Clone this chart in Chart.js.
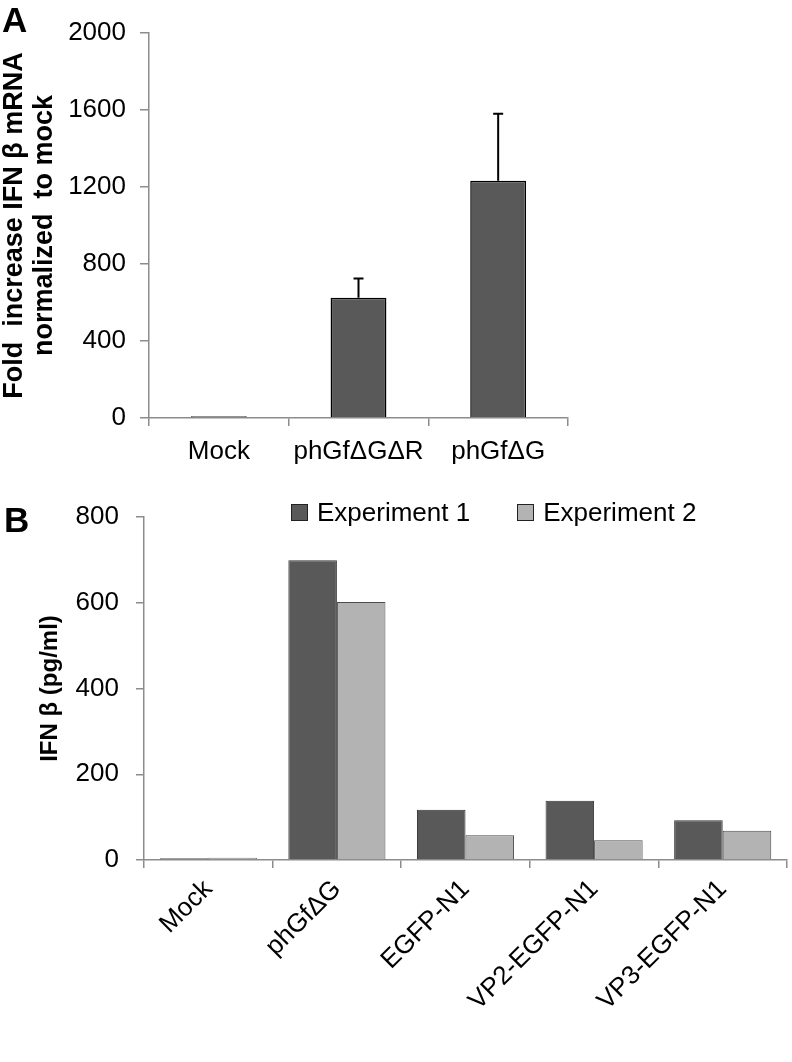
<!DOCTYPE html>
<html>
<head>
<meta charset="utf-8">
<script src="https://cdn.jsdelivr.net/npm/chart.js@4.4.1/dist/chart.umd.min.js"></script>
<style>
  html, body { margin: 0; padding: 0; background: #fff; }
  #wrap { position: relative; width: 792px; height: 1062px; font-family: "Liberation Sans", Arial, sans-serif; }
  #chartA { position: absolute; left: 0; top: 0; }
  #chartB { position: absolute; left: 0; top: 480px; }
  .panel { position: absolute; font-weight: bold; font-size: 35px; line-height: 1; color: #000; }
  #legendB { position: absolute; left: 291px; top: 497px; margin: 0; padding: 0; list-style: none; display: flex; }
  #legendB li { display: flex; align-items: center; margin-right: 47px; font-size: 26px; color: #000; }
  #legendB .box { width: 15px; height: 15px; border: 1.5px solid #222; margin-right: 9px; }
</style>
</head>
<body>
<div id="wrap">
  <canvas id="chartA" width="792" height="480"></canvas>
  <canvas id="chartB" width="792" height="582"></canvas>
  <div class="panel" style="left:2px; top:2px;">A</div>
  <div class="panel" style="left:4px; top:502px;">B</div>
  <ul id="legendB"></ul>
</div>
<script>
// 패널 A 데이터
const labelsA = ['Mock', 'phGfΔGΔR', 'phGfΔG'];
const valuesA = [9, 625, 1232];
const errorsA = [0, 100, 348];
const ticksA = { min: 0, max: 2000, step: 400 };

// 패널 B 데이터
const labelsB = ['Mock', 'phGfΔG', 'EGFP-N1', 'VP2-EGFP-N1', 'VP3-EGFP-N1'];
const exp1 = [4, 699, 117, 138, 93];
const exp2 = [5, 602, 58, 46, 68];
const ticksB = { min: 0, max: 800, step: 200 };

const FONT = '"Liberation Sans", Arial, sans-serif';
const AXIS = '#8c8c8c';
Chart.defaults.font.family = FONT;
Chart.defaults.color = '#000';

// 오차 막대 (위쪽만)
const errorBars = {
    id: 'errorBars',
    afterDatasetsDraw(chart) {
        const { ctx, scales: { y } } = chart;
        chart.data.datasets.forEach((ds, i) => {
            if (!ds.errors) return;
            chart.getDatasetMeta(i).data.forEach((bar, j) => {
                const err = ds.errors[j];
                if (!err) return;
                const top = y.getPixelForValue(ds.data[j] + err);
                ctx.save();
                ctx.strokeStyle = '#000';
                ctx.lineWidth = 2;
                ctx.beginPath();
                ctx.moveTo(bar.x, bar.y);
                ctx.lineTo(bar.x, top);
                ctx.moveTo(bar.x - 5, top);
                ctx.lineTo(bar.x + 5, top);
                ctx.stroke();
                ctx.restore();
            });
        });
    }
};

// HTML 범례
const htmlLegend = {
    id: 'htmlLegend',
    afterUpdate(chart) {
        const ul = document.getElementById('legendB');
        ul.innerHTML = '';
        chart.options.plugins.legend.labels.generateLabels(chart).forEach(item => {
            const li = document.createElement('li');
            const box = document.createElement('span');
            box.className = 'box';
            box.style.background = item.fillStyle;
            li.appendChild(box);
            li.appendChild(document.createTextNode(item.text));
            ul.appendChild(li);
        });
    }
};

function axisGrid(len) {
    return { display: true, drawOnChartArea: false, tickLength: len, color: AXIS, lineWidth: 1.5 };
}

// 패널 A
new Chart(document.getElementById('chartA'), {
    type: 'bar',
    data: {
        labels: labelsA,
        datasets: [{
            data: valuesA,
            errors: errorsA,
            backgroundColor: '#595959',
            borderColor: '#000',
            borderWidth: 1.5,
            categoryPercentage: 0.8,
            barPercentage: 0.5
        }]
    },
    options: {
        responsive: false,
        animation: false,
        devicePixelRatio: 1,
        layout: { padding: { top: 33, right: 224, left: 0, bottom: 0 } },
        plugins: { legend: { display: false }, tooltip: { enabled: false } },
        scales: {
            x: {
                grid: axisGrid(8),
                border: { color: AXIS, width: 1.5 },
                ticks: { font: { size: 26 }, padding: 10, maxRotation: 0 },
                afterFit: s => { s.height = 62; }
            },
            y: {
                min: ticksA.min,
                max: ticksA.max,
                grid: axisGrid(9),
                border: { color: AXIS, width: 1.5 },
                ticks: { stepSize: ticksA.step, font: { size: 26 }, padding: 14, format: { useGrouping: false } },
                title: {
                    display: true,
                    text: ['Fold  increase IFN β mRNA', 'normalized  to mock'],
                    font: { size: 27, weight: 'bold', lineHeight: 1.1 },
                    padding: { top: 0, bottom: 0 }
                },
                afterFit: s => { s.width = 149; }
            }
        }
    },
    plugins: [errorBars]
});

// 패널 B
new Chart(document.getElementById('chartB'), {
    type: 'bar',
    data: {
        labels: labelsB,
        datasets: [{
            label: 'Experiment 1',
            data: exp1,
            backgroundColor: '#595959',
            borderColor: '#333',
            borderWidth: 1,
            categoryPercentage: 0.755,
            barPercentage: 1
        }, {
            label: 'Experiment 2',
            data: exp2,
            backgroundColor: '#b3b3b3',
            borderColor: '#4d4d4d',
            borderWidth: 1,
            categoryPercentage: 0.755,
            barPercentage: 1
        }]
    },
    options: {
        responsive: false,
        animation: false,
        devicePixelRatio: 1,
        layout: { padding: { top: 37, right: 5, left: 0, bottom: 0 } },
        plugins: { legend: { display: false }, tooltip: { enabled: false } },
        scales: {
            x: {
                grid: axisGrid(8),
                border: { color: AXIS, width: 1.5 },
                ticks: { font: { size: 26 }, padding: 6, minRotation: 45, maxRotation: 45 },
                afterFit: s => { s.height = 202; }
            },
            y: {
                min: ticksB.min,
                max: ticksB.max,
                grid: axisGrid(8),
                border: { color: AXIS, width: 1.5 },
                ticks: { stepSize: ticksB.step, font: { size: 26 }, padding: 17 },
                title: {
                    display: true,
                    text: 'IFN β (pg/ml)',
                    font: { size: 24, weight: 'bold', lineHeight: 1.2 },
                    padding: { top: 36, bottom: 0 }
                },
                afterFit: s => { s.width = 144; }
            }
        }
    },
    plugins: [errorBars, htmlLegend]
});
</script>
</body>
</html>
